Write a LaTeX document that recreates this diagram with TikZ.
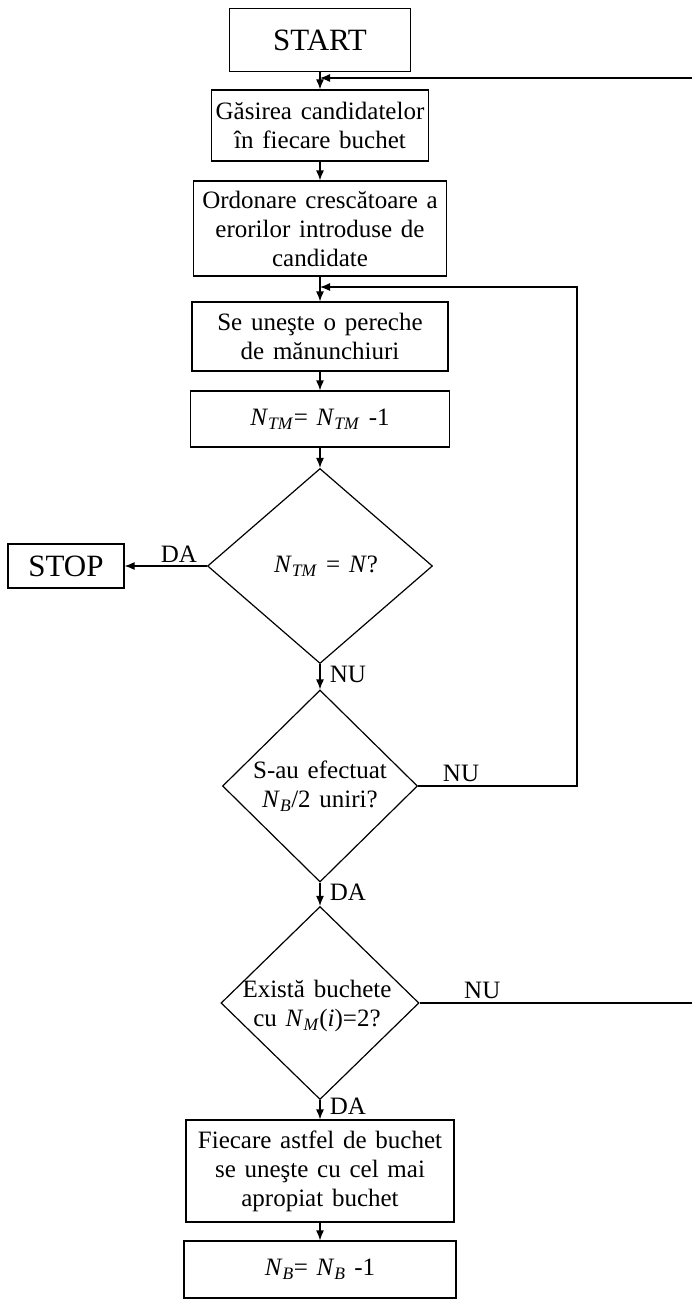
\documentclass[tikz,border=0pt]{standalone}
\usepackage{fontspec}
\setmainfont{Liberation Serif}
\usetikzlibrary{shapes.geometric,arrows.meta}
\newcommand{\Nx}[1]{\textit{N}\textsubscript{\textit{#1}}}
\newcommand{\widesp}{\spaceskip 0.35em\relax}

\begin{document}
\begin{tikzpicture}[x=1pt,y=-1pt,line width=1.2pt,
  every node/.style={font=\fontsize{25}{29}\selectfont\widesp},
  box/.style={draw,rectangle,align=center,inner sep=0pt},
  decision/.style={draw,diamond,inner sep=0pt},
  lbl/.style={right,xshift=6pt},
  arr/.style={-{Latex[length=10pt,width=8pt]}}]
  \useasboundingbox (0,0) rectangle (692,1303);
  % blocks
  \node[box,minimum width=181pt,minimum height=63pt,font=\fontsize{31}{36}\selectfont] (start) at (320,40) {START};
  \node[box,minimum width=217pt,minimum height=71pt] (gasire) at (320,125.5) {Găsirea candidatelor\\în fiecare buchet};
  \node[box,minimum width=253pt,minimum height=95pt] (ordonare) at (320,228.5) {Ordonare crescătoare a\\erorilor introduse de\\candidate};
  \node[box,minimum width=256pt,minimum height=69pt] (uneste) at (320,336.5) {Se uneşte o pereche\\de mănunchiuri};
  \node[box,minimum width=259pt,minimum height=56pt] (ntm) at (320,419) {\Nx{TM}= \Nx{TM} -1};
  \node[decision,minimum width=225pt,minimum height=195pt] (d1) at (320,566) {};
  \node (d1t) at (326,566) {\Nx{TM} = \textit{N}?};
  \node[box,minimum width=116pt,minimum height=44pt,font=\fontsize{31}{36}\selectfont] (stop) at (66,566) {STOP};
  \node[decision,minimum width=195pt,minimum height=192pt] (d2) at (320,786) {};
  \node[align=center] (d2t) at (320,786) {S-au efectuat\\\Nx{B}/2 uniri?};
  \node[decision,minimum width=198pt,minimum height=193pt] (d3) at (320,1003) {};
  \node[align=center] (d3t) at (317,1006) {Există buchete\\cu \Nx{M}(\textit{i})=2?};
  \node[box,minimum width=268pt,minimum height=102pt] (fiecare) at (320,1171) {Fiecare astfel de buchet\\se uneşte cu cel mai\\apropiat buchet};
  \node[box,minimum width=272pt,minimum height=57pt] (nb) at (320,1269.5) {\Nx{B}= \Nx{B} -1};
  % right edge ends
  \coordinate (r1) at (692,78);
  \coordinate (r2) at (577,287);
  \coordinate (r3) at (692,1001);
  % connectors
  \draw[arr] (start) -- (gasire);
  \draw[arr] (r1) -- (start.south |- r1);
  \draw[arr] (gasire) -- (ordonare);
  \draw[arr] (ordonare) -- (uneste);
  \draw[arr] (uneste) -- (ntm);
  \draw[arr] (ntm) -- (d1);
  \draw[arr] (d1.west) -- node[above,pos=0.34] (da1) {DA} (stop.east);
  \draw[arr] (d1.south) -- node[lbl,pos=0.4] (nu1) {NU} (d2.north);
  \draw[arr] (d2.east) -- node[above,pos=0.27] (nu2) {NU} (d2.east -| r2) -- (r2) -- (uneste.north |- r2);
  \draw[arr] (d2.south) -- node[lbl,pos=0.4] (da2) {DA} (d3.north);
  \draw (d3.east) -- node[above,pos=0.23] (nu3) {NU} (d3.east -| r3);
  \draw[arr] (d3.south) -- node[lbl,pos=0.3] (da3) {DA} (fiecare.north);
  \draw[arr] (fiecare) -- (nb);
\end{tikzpicture}
\end{document}
